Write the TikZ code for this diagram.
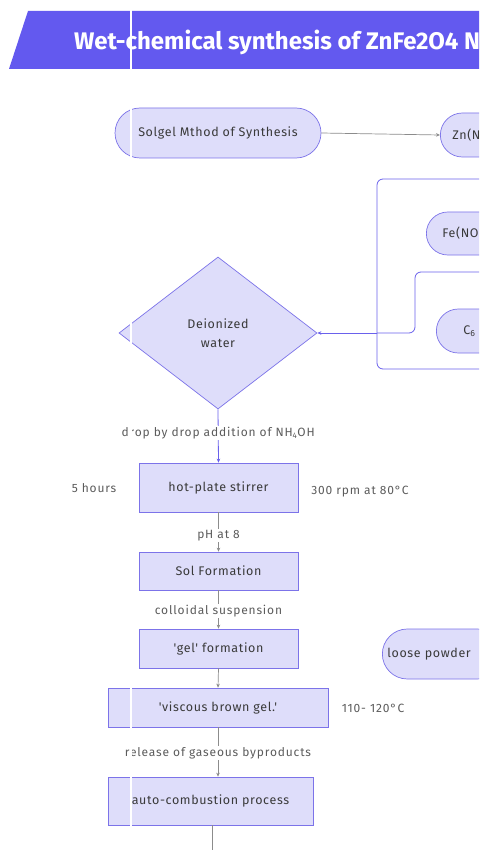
\documentclass[tikz,border=0pt]{standalone}
\usepackage{fontspec}
\setmainfont{Fira Sans}
\newfontfamily\titlefont{Fira Sans}
\newfontfamily\nodefont[LetterSpace=5]{Fira Sans}
\newfontfamily\labelfont[LetterSpace=7]{Fira Sans}
\usetikzlibrary{shapes.geometric,arrows.meta}
\definecolor{bannerblue}{HTML}{6359EF}
\definecolor{nodefill}{HTML}{DEDDFA}
\definecolor{nodeborder}{HTML}{7C73E9}
\definecolor{edgepurple}{HTML}{6A61EC}
\definecolor{edgegray}{HTML}{8C8C8C}
\definecolor{nodetext}{HTML}{3A3A3A}
\definecolor{labeltext}{HTML}{5C5C5C}
\begin{document}
\begin{tikzpicture}[x=1pt,y=-1pt,
  pill/.style={draw=nodeborder, fill=nodefill, line width=0.7pt, text=nodetext,
    font=\nodefont\fontsize{12.5}{15}\selectfont},
  boxnode/.style={draw=nodeborder, fill=nodefill, line width=0.7pt, text=nodetext,
    font=\nodefont\fontsize{12.5}{15}\selectfont, inner sep=0pt},
  sidelabel/.style={text=labeltext, font=\labelfont\fontsize{12}{14}\selectfont, inner sep=1pt},
  edgelabel/.style={fill=white, text=labeltext, font=\labelfont\fontsize{12}{14}\selectfont, inner sep=1pt},
  purpleedge/.style={draw=edgepurple, line width=0.8pt},
  grayedge/.style={draw=edgegray, line width=0.7pt},
  tip/.style={-{Stealth[length=4pt,width=3.5pt]}}
]
\useasboundingbox (0,0) rectangle (479,850);
\clip (0,0) rectangle (479,850);
\fill[white] (0,0) rectangle (479,850);

% banner
\fill[bannerblue] (28,11) -- (500,11) -- (500,69) -- (9,69) -- cycle;
\node[anchor=west, text=white, font=\titlefont\bfseries\fontsize{24}{28}\selectfont, inner sep=0pt]
  (title) at (74,42) {Wet-chemical synthesis of ZnFe2O4 N};

% top row
\node[pill, minimum width=206pt, minimum height=50pt, rounded corners=25pt, inner sep=0pt]
  (solgel) at (218,133) {Solgel Mthod of Synthesis};
\node[pill, anchor=west, minimum height=44pt, rounded corners=22pt,
  text width=130pt, align=left, inner xsep=12pt, inner ysep=0pt]
  (zn) at (440,135) {Zn(N};
\draw[grayedge, tip] (solgel.east) -- (zn.west);

% right group
\node[pill, anchor=west, minimum height=43pt, rounded corners=21.5pt,
  text width=130pt, align=left, inner xsep=16pt, inner ysep=0pt]
  (fe) at (426,233.5) {Fe(NO};
\node[pill, anchor=west, minimum height=44pt, rounded corners=22pt,
  text width=130pt, align=left, inner xsep=27pt, inner ysep=0pt]
  (cit) at (436,331) {C\textsubscript{6}};

% diamond
\node[diamond, draw=nodeborder, fill=nodefill, line width=0.7pt, text=nodetext,
  minimum width=198pt, minimum height=152pt, inner sep=0pt, align=center,
  font=\nodefont\fontsize{12.5}{19}\selectfont]
  (dw) at (218,333) {Deionized\\water};

\coordinate (offA) at (520,179);
\coordinate (offB) at (520,369);
\coordinate (offC) at (520,272);
\coordinate (join) at (377,333);
\draw[purpleedge, rounded corners=6pt] (offA) -- (377,179) -- (join);
\draw[purpleedge, rounded corners=6pt] (offB) -- (377,369) -- (join);
\draw[purpleedge, rounded corners=6pt] (offC) -- (415,272) -- (415,333) -- (join);
\draw[purpleedge, tip] (join) -- (dw.east);

% main column
\node[boxnode, minimum width=159pt, minimum height=49pt] (hp) at (218.5,487.5) {hot-plate stirrer};
\node[boxnode, minimum width=159pt, minimum height=38pt] (sol) at (218.5,571) {Sol Formation};
\node[boxnode, minimum width=159pt, minimum height=39pt] (gel) at (218.5,648.5) {'gel' formation};
\node[boxnode, minimum width=220pt, minimum height=39pt] (visc) at (218,707.5) {'viscous brown gel.'};
\node[boxnode, minimum width=205pt, minimum height=48pt] (auto) at (210.5,801) {auto-combustion process};

\node[sidelabel] (hours) at (94,488) {5 hours};
\node[sidelabel] (rpm) at (360,492) {300 rpm at 80°C};
\node[sidelabel] (temp) at (373,708) {110- 120°C};

\node[pill, anchor=west, minimum height=50pt, rounded corners=25pt,
  text width=110pt, align=left, inner xsep=5pt, inner ysep=0pt]
  (loose) at (382,654) {loose powder};

\draw[purpleedge, tip] (dw.south) -- node[edgelabel, pos=0.44] {drop by drop addition of NH\textsubscript{4}OH} (hp.north);
\draw[grayedge, tip] (hp.south) -- node[edgelabel, pos=0.58] {pH at 8} (sol.north);
\draw[grayedge, tip] (sol.south) -- node[edgelabel, pos=0.55] {colloidal suspension} (gel.north);
\draw[grayedge, tip] (gel.south) -- (visc.north);
\draw[grayedge, tip] (visc.south) -- node[edgelabel, pos=0.52] {release of gaseous byproducts} (visc.south |- auto.north);
\coordinate (offD) at (212,860);
\draw[grayedge] (auto.south -| offD) -- (offD);

% scan artifact: thin white vertical line
\draw[white, line width=1.4pt] (131,0) -- (131,850);
\end{tikzpicture}
\end{document}
